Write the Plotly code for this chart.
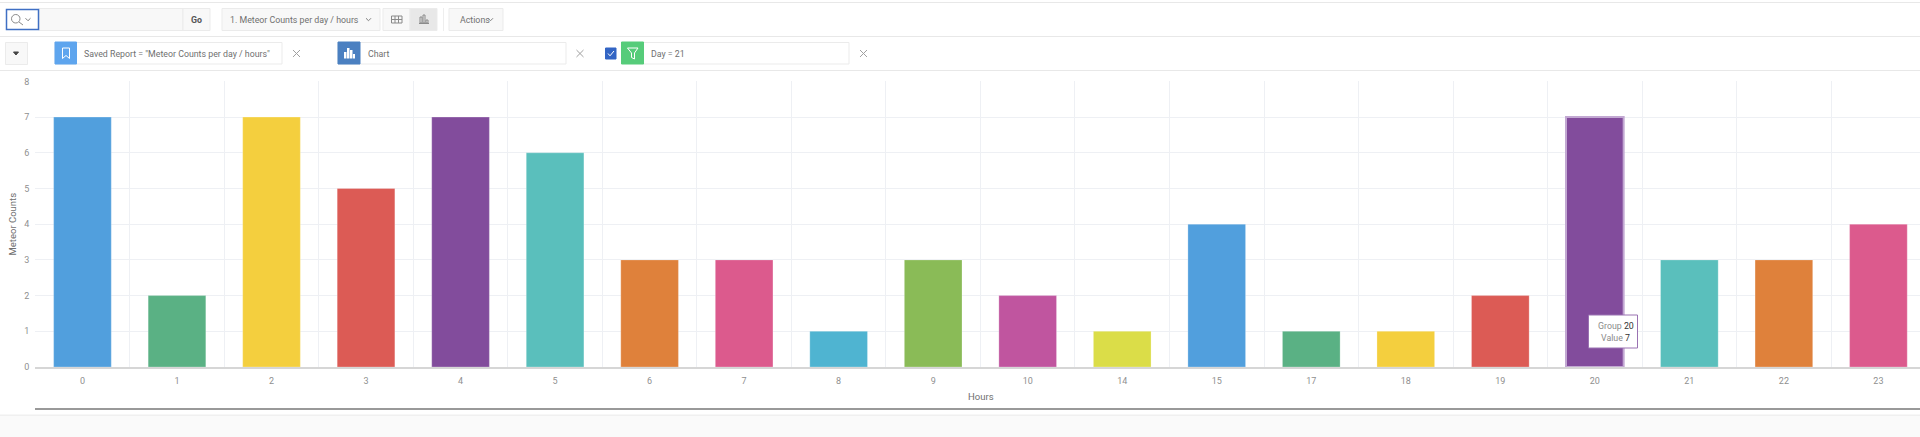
import plotly.graph_objects as go

hours = ["0", "1", "2", "3", "4", "5", "6", "7", "8", "9", "10", "14", "15", "17", "18", "19", "20", "21", "22", "23"]
counts = [7, 2, 7, 5, 7, 6, 3, 3, 1, 3, 2, 1, 4, 1, 1, 2, 7, 3, 3, 4]
palette = ["#519fdd", "#5ab184", "#f4cf3e", "#dc5b55", "#824c9c", "#5abfbc", "#df813b", "#dc5a8d",
           "#4fb4d1", "#8abb57", "#c0559f", "#dbdd48"]
bar_colors = [palette[i % 12] for i in range(12)] + [palette[i % 12] for i in range(8)]
line_colors = ["rgba(255,255,255,0.25)"] * len(hours)
line_widths = [1] * len(hours)
line_colors[16] = "#c2a8d2"
line_widths[16] = 2

W, H = 1920, 437
FONT = "Roboto"
TXT = "#707070"


def px(x):
    return x / W


def py(y):
    return 1 - y / H


shapes = []
notes = []


def rect(x0, y0, x1, y1, fill="rgba(0,0,0,0)", line="#ebebeb", lw=1):
    shapes.append(dict(type="rect", xref="paper", yref="paper", x0=px(x0), x1=px(x1), y0=py(y0), y1=py(y1),
                       fillcolor=fill, line=dict(color=line, width=lw), layer="above"))


def hline(x0, x1, y, color="#e8e8e8", lw=1):
    shapes.append(dict(type="line", xref="paper", yref="paper", x0=px(x0), x1=px(x1), y0=py(y), y1=py(y),
                       line=dict(color=color, width=lw), layer="above"))


def poly(points, color="#808080", lw=1, fill=None, close=False):
    d = "M" + " L".join(f"{px(a):.5f},{py(b):.5f}" for a, b in points) + (" Z" if close else "")
    shapes.append(dict(type="path", xref="paper", yref="paper", path=d, layer="above",
                       fillcolor=fill if fill else "rgba(0,0,0,0)", line=dict(color=color, width=lw)))


def label(x, y, text, size=8.8, color=TXT, anchor="left", weight=None, angle=0):
    if weight:
        text = f"<b>{text}</b>"
    notes.append(dict(xref="paper", yref="paper", x=px(x), y=py(y), text=text, showarrow=False, textangle=angle,
                      xanchor=anchor, yanchor="middle", font=dict(family=FONT, size=size, color=color)))


def chevron(x, y, color="#808080", s=2.5):
    poly([(x - s, y - s / 2), (x, y + s / 2), (x + s, y - s / 2)], color=color)


def cross(x, y, s=3.5):
    poly([(x - s, y - s), (x + s, y + s)], color="#a0a0a0")
    poly([(x - s, y + s), (x + s, y - s)], color="#a0a0a0")


# page furniture
hline(0, W, 2.5)
hline(0, W, 36.5)
hline(0, W, 70.5)
hline(35, W, 409, color="#999999", lw=2)
hline(0, W, 415.5, color="#f0f0f0", lw=2)
rect(0, 416, W, H, fill="#fafafa", line="#fafafa", lw=0)

# axis titles, placed by hand since standoff is ignored without automargin
label(12, 224.5, "Meteor Counts", size=9.5, anchor="center", angle=-90)
label(980.7, 396.7, "Hours", size=9.5, anchor="center")

# search toolbar
rect(39, 8.5, 183, 30.5, fill="#f8f8f8")
rect(183, 8.5, 210, 30.5, fill="#f8f8f8")
label(196.5, 19.5, "Go", color="#555555", anchor="center", weight=True)
rect(6.5, 9.5, 38.5, 29.5, fill="#ffffff", line="#3f6fc4", lw=1.5)
shapes.append(dict(type="circle", xref="paper", yref="paper", x0=px(11.5), x1=px(20), y0=py(14.5), y1=py(23),
                   line=dict(color="#8a8a8a", width=1), layer="above"))
poly([(19, 22), (23, 25)], color="#8a8a8a")
chevron(28, 19.5)

rect(222, 8.5, 380, 30.5, fill="#f8f8f8")
label(228, 19.5, "1. Meteor Counts per day / hours")
chevron(368.5, 19.5)

rect(383, 8.5, 410, 30.5, fill="#f8f8f8")
rect(410, 8.5, 437, 30.5, fill="#e8e8e8")
rect(391.5, 16, 402, 23, line="#8a8a8a")
hline(391.5, 402, 19.5, color="#8a8a8a")
poly([(395, 16), (395, 23)], color="#8a8a8a")
poly([(398.5, 16), (398.5, 23)], color="#8a8a8a")
poly([(419, 23.5), (429, 23.5)], color="#8a8a8a")
rect(420, 17, 422, 23, line="#8a8a8a")
rect(423, 15, 425, 23, line="#8a8a8a")
rect(426, 20, 428, 23, line="#8a8a8a")

shapes.append(dict(type="line", xref="paper", yref="paper", x0=px(443.5), x1=px(443.5), y0=py(8), y1=py(31),
                   line=dict(color="#eeeeee", width=1), layer="above"))
rect(449, 8.5, 503, 30.5, fill="#f8f8f8")
label(457.5, 19.5, "Actions")
chevron(490.5, 19.5)

# saved report row
rect(5.5, 42.5, 27.5, 64.5, fill="#f8f8f8")
poly([(13.5, 52), (18.5, 52), (16, 55)], color="#444444", fill="#444444", close=True)

rect(55, 42.5, 282, 64, fill="#ffffff")
rect(55, 42, 76.5, 64, fill="#5ea5ee", line="#5ea5ee")
poly([(62.5, 48), (69.5, 48), (69.5, 58.5), (66, 55.5), (62.5, 58.5)], color="#ffffff", close=True)
label(82, 53.5, "Saved Report = \"Meteor Counts per day / hours\"")
cross(296.5, 53.5)

rect(338, 42.5, 566, 64, fill="#ffffff")
rect(338, 42, 360, 64, fill="#4b80c1", line="#4b80c1")
rect(344, 52, 346.5, 58.5, fill="#ffffff", line="#ffffff", lw=0)
rect(347, 48, 349.5, 58.5, fill="#ffffff", line="#ffffff", lw=0)
rect(350, 50, 352.5, 58.5, fill="#ffffff", line="#ffffff", lw=0)
rect(353, 54, 355, 58.5, fill="#ffffff", line="#ffffff", lw=0)
label(366, 53.5, "Chart")
cross(580, 53.5)

rect(605.5, 48, 616, 59, fill="#3365c4", line="#3365c4")
poly([(608, 53.5), (610, 55.8), (614, 51)], color="#ffffff")
rect(643, 42.5, 849, 64, fill="#ffffff")
rect(621.5, 42, 643.5, 64, fill="#56cc7a", line="#56cc7a")
poly([(627.5, 48), (638, 48), (634.5, 53), (634.5, 59), (631.5, 57.5), (631.5, 53)], color="#ffffff", close=True)
label(649, 53.5, "Day = 21")
cross(863.5, 53.5)

# tooltip over the hovered bar
rect(1588.5, 315, 1637.5, 348, fill="#ffffff", line="#9a72b2", lw=1)
label(1595.5, 326, "Group <span style='color:#333333'>20</span>", color="#8a8a8a")
label(1598.5, 337.5, "Value <span style='color:#333333'>7</span>", color="#8a8a8a")

fig = go.Figure(go.Bar(
    x=hours,
    y=counts,
    width=0.61,
    marker=dict(color=bar_colors, line=dict(color=line_colors, width=line_widths)),
    showlegend=False,
))

fig.update_layout(
    width=W, height=H,
    margin=dict(l=0, r=0, t=0, b=0),
    paper_bgcolor="#ffffff", plot_bgcolor="#ffffff",
    shapes=shapes, annotations=notes,
    font=dict(family=FONT, size=9, color="#8a8a8a"),
)
fig.update_xaxes(
    type="category", categoryorder="array", categoryarray=hours,
    domain=[35.2 / W, 1], range=[-0.5, 19.44],
    tickson="boundaries", showgrid=True, gridcolor="#eef0f4", gridwidth=1,
    ticks="", ticklabelstandoff=4, tickfont=dict(size=9, color="#8f8f8f"),
    showline=True, linecolor="#d6d6d6", linewidth=2, zeroline=False,
    automargin=False,
)
fig.update_yaxes(
    domain=[1 - 367 / H, 1 - 81.4 / H], range=[0, 8], dtick=1,
    showgrid=True, gridcolor="#eef0f4", gridwidth=1,
    zeroline=False, showline=False,
    ticks="", ticklabelstandoff=5,
    tickfont=dict(size=9, color="#8f8f8f"),
    automargin=False,
)

fig.write_html("out.html", config=dict(displayModeBar=False),
               post_script="document.body.style.margin='0';document.body.style.overflow='hidden';")
